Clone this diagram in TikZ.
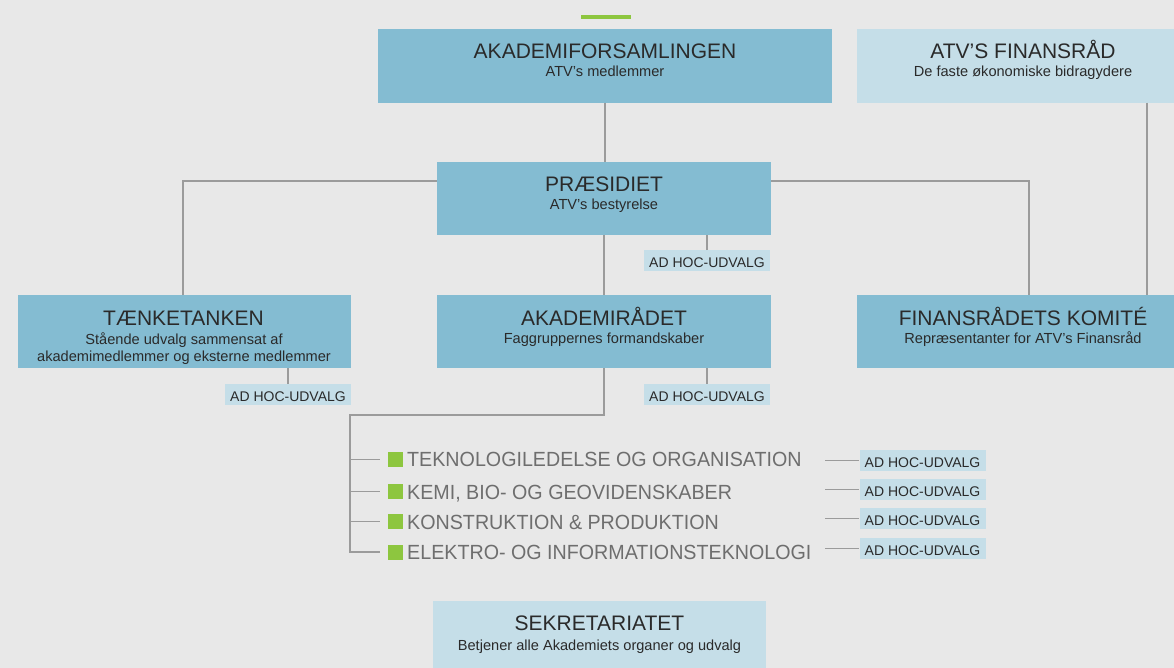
\documentclass[tikz,border=0pt]{standalone}
\usepackage{fontspec}
\setmainfont{Liberation Sans}
\newfontfamily\narrowitemfont[FakeStretch=0.96]{Liberation Sans}
\definecolor{bg}{HTML}{E8E8E8}
\definecolor{boxdark}{HTML}{84BCD2}
\definecolor{boxlight}{HTML}{C5DEE8}
\definecolor{lime}{HTML}{8DC63F}
\definecolor{linkgray}{HTML}{9B9B9B}
\definecolor{ink}{HTML}{2A2A2A}
\definecolor{itemgray}{HTML}{6E6E6E}
\tikzset{
  darkbox/.style={rectangle, fill=boxdark, draw=none, inner sep=0pt},
  lightbox/.style={rectangle, fill=boxlight, draw=none, inner sep=0pt},
  ttl/.style={anchor=base, inner sep=0pt, text=ink, font=\fontsize{21}{25}\selectfont},
  sub/.style={anchor=base, inner sep=0pt, text=ink, font=\fontsize{14.6}{17}\selectfont},
  adhoc/.style={lightbox, minimum width=126pt, minimum height=20.5pt, text=ink,
    font=\fontsize{14}{17}\selectfont, text height=14pt, text depth=0pt},
  item/.style={anchor=base west, inner sep=0pt, text=itemgray, font=\narrowitemfont\fontsize{20.5}{24}\selectfont},
  sq/.style={rectangle, fill=lime, draw=none, inner sep=0pt, minimum size=15pt},
  link/.style={draw=linkgray, line width=1.3pt},
}
\begin{document}
\begin{tikzpicture}[x=1pt,y=-1pt]
\fill[bg] (0,0) rectangle (1174,668);
\useasboundingbox (0,0) rectangle (1174,668);
\fill[lime] (581,15) rectangle (631,19.5);

% boxes
\node[darkbox, minimum width=454pt, minimum height=73.5pt] (af) at (605,65.8) {};
\node[ttl] (afT) at (605,58.3) {AKADEMIFORSAMLINGEN};
\node[sub] (afS) at (605,76.7) {ATV’s medlemmer};

\node[lightbox, minimum width=317pt, minimum height=73.5pt] (fin) at (1015.5,65.8) {};
\node[ttl] (finT) at (1023,58.3) {ATV’S FINANSRÅD};
\node[sub] (finS) at (1023,76.7) {De faste økonomiske bidragydere};

\node[darkbox, minimum width=334pt, minimum height=73pt] (pr) at (604,198.5) {};
\node[ttl] (prT) at (604,191.3) {PRÆSIDIET};
\node[sub] (prS) at (604,209.7) {ATV’s bestyrelse};
\node[adhoc] (ah1) at (707,260.5) {AD HOC-UDVALG};

\node[darkbox, minimum width=333pt, minimum height=73pt] (tt) at (184.5,331.5) {};
\node[ttl] (ttT) at (183.5,325) {TÆNKETANKEN};
\node[sub] (ttS1) at (184,344.3) {Stående udvalg sammensat af};
\node[sub] (ttS2) at (184,361.7) {akademimedlemmer og eksterne medlemmer};
\node[adhoc] (ah2) at (288,394.3) {AD HOC-UDVALG};

\node[darkbox, minimum width=334pt, minimum height=73pt] (ar) at (604,331.5) {};
\node[ttl] (arT) at (604,325.3) {AKADEMIRÅDET};
\node[sub] (arS) at (604,343) {Faggruppernes formandskaber};
\node[adhoc] (ah3) at (707,394.3) {AD HOC-UDVALG};

\node[darkbox, minimum width=317pt, minimum height=73pt] (fk) at (1015.5,331.5) {};
\node[ttl] (fkT) at (1023,325) {FINANSRÅDETS KOMITÉ};
\node[sub] (fkS) at (1023,343.3) {Repræsentanter for ATV’s Finansråd};

\node[lightbox, minimum width=333pt, minimum height=67pt] (sek) at (599.5,634.5) {};
\node[ttl] (sekT) at (599.5,630.7) {SEKRETARIATET};
\node[sub] (sekS) at (599.5,650) {Betjener alle Akademiets organer og udvalg};

% faggrupper
\node[sq] (g1) at (395.5,459.5) {};
\node[item] (i1) at (407,466) {TEKNOLOGILEDELSE OG ORGANISATION};
\node[sq] (g2) at (395.5,491.5) {};
\node[item] (i2) at (407,499.3) {KEMI, BIO- OG GEOVIDENSKABER};
\node[sq] (g3) at (395.5,521.5) {};
\node[item] (i3) at (407,529) {KONSTRUKTION \& PRODUKTION};
\node[sq] (g4) at (395.5,552) {};
\node[item] (i4) at (407,559.3) {ELEKTRO- OG INFORMATIONSTEKNOLOGI};

\node[adhoc] (ak1) at (922.5,460.3) {AD HOC-UDVALG};
\node[adhoc] (ak2) at (922.5,489.3) {AD HOC-UDVALG};
\node[adhoc] (ak3) at (922.5,518.5) {AD HOC-UDVALG};
\node[adhoc] (ak4) at (922.5,548.3) {AD HOC-UDVALG};

% connectors
\coordinate (hy) at (0,181);
\coordinate (lx) at (183,0);
\coordinate (rx) at (1029,0);
\coordinate (fx) at (1147,0);
\coordinate (b0) at (350,415);
\coordinate (rt) at (825,0);

\draw[link] (af.south) -- (af.south |- pr.north);
\draw[link] (pr.west |- hy) -| (lx |- tt.north);
\draw[link] (pr.east |- hy) -| (rx |- fk.north);
\draw[link] (fx |- fin.south) -- (fx |- fk.north);
\draw[link] (pr.south) -- (ar.north);
\draw[link] (ah1.north) -- (ah1.north |- pr.south);
\draw[link] (ah2.north) -- (ah2.north |- tt.south);
\draw[link] (ah3.north) -- (ah3.north |- ar.south);
\draw[link] (ar.south) |- (b0) -- (b0 |- g4.west) -- ([xshift=-8pt]g4.west);
\draw[link] (b0 |- g1.west) -- ([xshift=-8pt]g1.west);
\draw[link] (b0 |- g2.west) -- ([xshift=-8pt]g2.west);
\draw[link] (b0 |- g3.west) -- ([xshift=-8pt]g3.west);
\draw[link] (rt |- ak1.west) -- (ak1.west);
\draw[link] (rt |- ak2.west) -- (ak2.west);
\draw[link] (rt |- ak3.west) -- (ak3.west);
\draw[link] (rt |- ak4.west) -- (ak4.west);
\end{tikzpicture}
\end{document}
